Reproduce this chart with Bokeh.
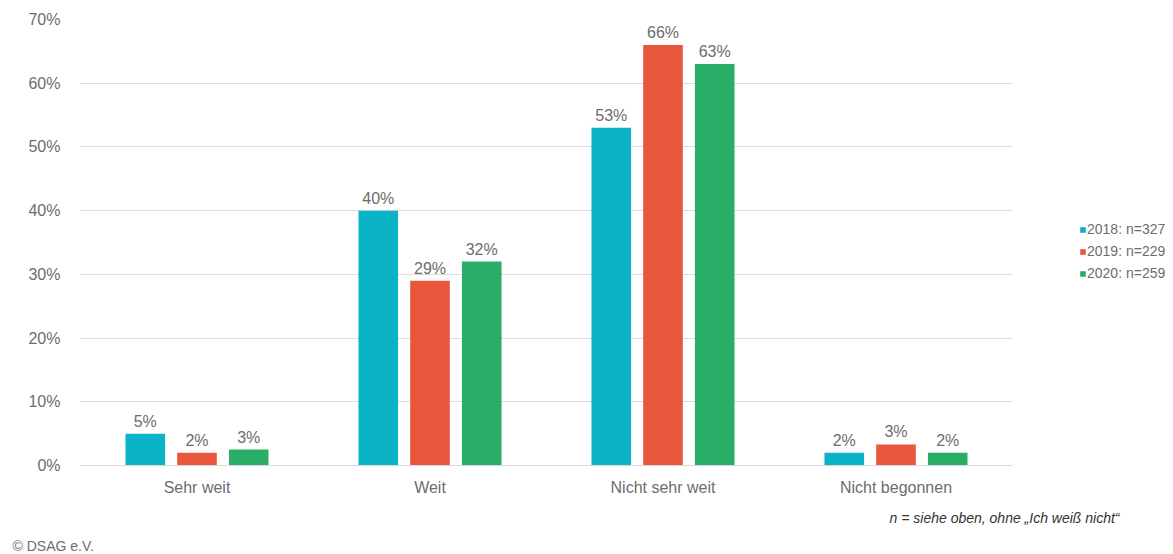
from bokeh.plotting import figure
from bokeh.models import (ColumnDataSource, FactorRange, Range1d, Legend, LegendItem,
                          PrintfTickFormatter, FixedTicker, Title)
from bokeh.core.properties import value
from bokeh.transform import dodge
from bokeh.embed import file_html
from bokeh.resources import INLINE

categories = ["Sehr weit", "Weit", "Nicht sehr weit", "Nicht begonnen"]
series_names = ["2018: n=327", "2019: n=229", "2020: n=259"]
values_2018 = [5, 40, 53, 2]
values_2019 = [2, 29, 66, 3.3]
values_2020 = [2.5, 32, 63, 2]
labels_2018 = ["5%", "40%", "53%", "2%"]
labels_2019 = ["2%", "29%", "66%", "3%"]
labels_2020 = ["3%", "32%", "63%", "2%"]
y_ticks = [0, 10, 20, 30, 40, 50, 60, 70]
colors = ["#0BB3C6", "#E8573C", "#2AAD66"]

FONT = "Liberation Sans"
GREY = "#6d6d6d"

source = ColumnDataSource(dict(
    cat=categories,
    v2018=values_2018, v2019=values_2019, v2020=values_2020,
    l2018=labels_2018, l2019=labels_2019, l2020=labels_2020,
))

p = figure(frame_width=932, frame_height=446, x_range=FactorRange(*categories, range_padding=0),
           y_range=Range1d(0, 70), output_backend="svg", toolbar_location=None,
           min_border_left=80, min_border_right=10, min_border_top=19, min_border_bottom=0)
p.outline_line_color = None
p.background_fill_color = "white"
p.border_fill_color = "white"

offsets = [-0.222, 0.0, 0.222]
keys = ["2018", "2019", "2020"]
renderers = []
for off, k, c in zip(offsets, keys, colors):
    r = p.vbar(x=dodge("cat", off, range=p.x_range), top="v" + k, width=0.17,
               source=source, fill_color=c, line_color=None)
    renderers.append(r)
    p.text(x=dodge("cat", off, range=p.x_range), y="v" + k, text="l" + k, source=source,
           text_align="center", text_baseline="bottom", y_offset=-4,
           text_font_size="16px", text_color=GREY, text_font=value(FONT))

p.yaxis.ticker = FixedTicker(ticks=y_ticks)
p.yaxis.formatter = PrintfTickFormatter(format="%d%%")
p.yaxis.axis_line_color = None
p.yaxis.major_tick_line_color = None
p.yaxis.minor_tick_line_color = None
p.yaxis.major_label_text_font = FONT
p.yaxis.major_label_text_font_size = "16px"
p.yaxis.major_label_text_color = GREY
p.yaxis.major_label_standoff = 14

p.xaxis.axis_line_color = "#d9d9d9"
p.xaxis.major_tick_line_color = None
p.xaxis.minor_tick_line_color = None
p.xaxis.major_label_text_font = FONT
p.xaxis.major_label_text_font_size = "16px"
p.xaxis.major_label_text_color = GREY
p.xaxis.major_label_standoff = 7

p.xgrid.grid_line_color = None
p.ygrid.grid_line_color = "#dcdcdc"
p.ygrid.grid_line_width = 1

legend = Legend(items=[LegendItem(label=n, renderers=[r]) for n, r in zip(series_names, renderers)],
                location=(67, 182), orientation="vertical",
                glyph_width=7, glyph_height=7, label_standoff=1,
                label_text_font=FONT, label_text_font_size="14px", label_text_color=GREY,
                label_height=20, spacing=2, padding=0, margin=0,
                border_line_color=None, background_fill_alpha=0)
p.add_layout(legend, "right")

foot = Title(text="n = siehe oben, ohne \u201eIch weiß nicht\u201c", align="right", offset=-107,
             text_font=FONT, text_font_size="14px", text_font_style="italic",
             text_color="#333333", standoff=18)
p.add_layout(foot, "below")
copy = Title(text="\u00a9 DSAG e.V.", align="left", offset=-68,
             text_font=FONT, text_font_size="14px", text_font_style="normal",
             text_color=GREY, standoff=2)
p.add_layout(copy, "below")

open("out.html", "w").write(file_html(p, INLINE))
